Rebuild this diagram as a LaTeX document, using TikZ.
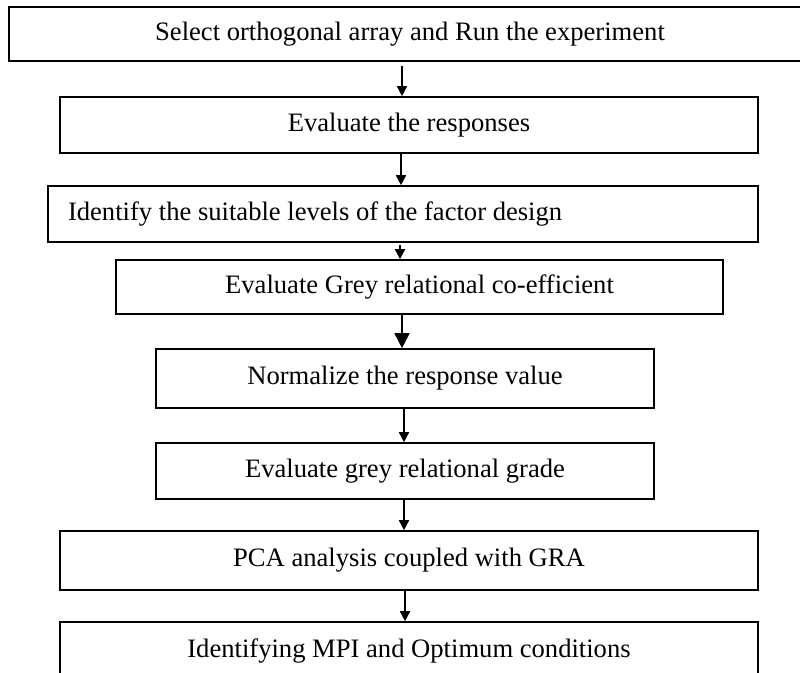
\documentclass[tikz,border=0pt]{standalone}
\usepackage{fontspec}
\setmainfont{Liberation Serif}
\usetikzlibrary{arrows.meta}
\tikzset{
  stepbox/.style={draw=black, line width=1.6pt, inner sep=0pt, align=center,
    font=\fontsize{26.6}{30}\selectfont, anchor=center},
  arr/.style={line width=1.6pt, -{Triangle[length=10pt,width=10pt]}},
  bigarr/.style={line width=1.6pt, -{Triangle[length=15pt,width=15pt]}}
}
\begin{document}
\begin{tikzpicture}[x=1pt,y=-1pt]
\useasboundingbox (0,0) rectangle (800,672);
\node[stepbox, minimum width=802pt, minimum height=54pt] (b1) at (410,34) {Select orthogonal array and Run the experiment};
\node[stepbox, minimum width=698pt, minimum height=56pt] (b2) at (409,125) {Evaluate the responses};
\node[stepbox, minimum width=710pt, minimum height=56pt] (b3) at (403,214) {\makebox[670pt][l]{Identify the suitable levels of the factor design}};
\node[stepbox, minimum width=607pt, minimum height=54pt] (b4) at (419.5,287) {Evaluate Grey relational co-efficient};
\node[stepbox, minimum width=498pt, minimum height=59pt] (b5) at (405,378.5) {Normalize the response value};
\node[stepbox, minimum width=498pt, minimum height=56pt] (b6) at (405,471) {Evaluate grey relational grade};
\node[stepbox, minimum width=698pt, minimum height=59pt] (b7) at (409,560.5) {PCA analysis coupled with GRA};
\node[stepbox, minimum width=698pt, minimum height=58pt] (b8) at (409,651) {Identifying MPI and Optimum conditions};
\coordinate (c1) at (402,0);
\coordinate (c2) at (401,0);
\coordinate (c3) at (400,0);
\coordinate (c4) at (402,0);
\coordinate (c5) at (404,0);
\coordinate (c6) at (404,0);
\coordinate (c7) at (405,0);
\draw[arr] ([yshift=-4pt]b1.south -| c1) -- (b2.north -| c1);
\draw[arr] (b2.south -| c2) -- (b3.north -| c2);
\draw[arr] ([yshift=-2pt]b3.south -| c3) -- (b4.north -| c3);
\draw[bigarr] (b4.south -| c4) -- (b5.north -| c4);
\draw[arr] (b5.south -| c5) -- (b6.north -| c5);
\draw[arr] (b6.south -| c6) -- (b7.north -| c6);
\draw[arr] (b7.south -| c7) -- (b8.north -| c7);
\end{tikzpicture}
\end{document}
